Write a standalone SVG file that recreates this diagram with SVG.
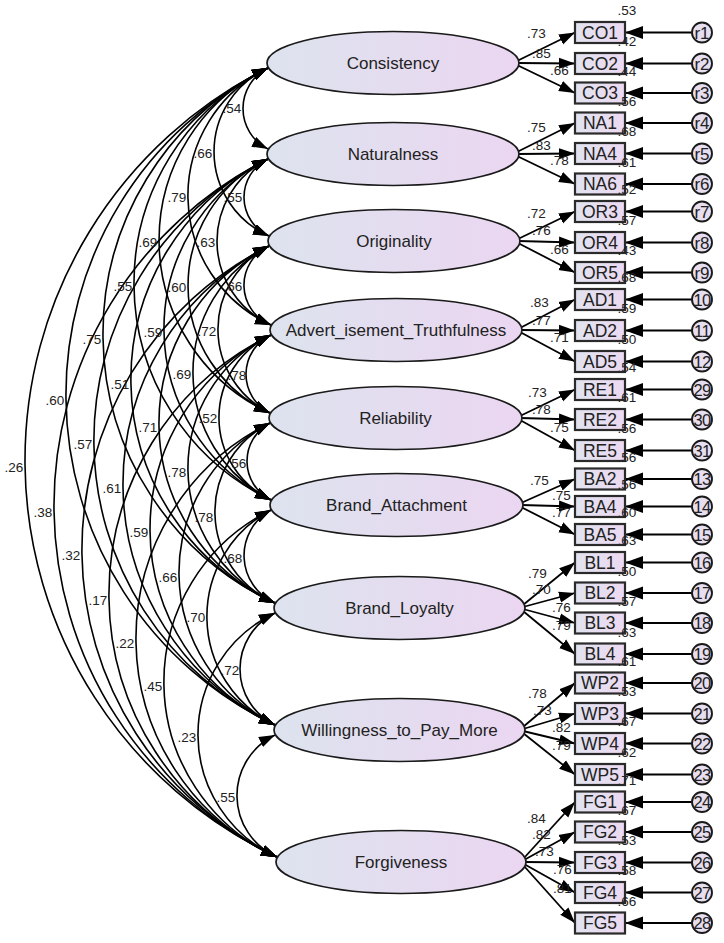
<svg xmlns="http://www.w3.org/2000/svg" width="724" height="943" viewBox="0 0 724 943">
<style>
text{font-family:"Liberation Sans",Arial,sans-serif;fill:#222}
.lat{fill:url(#gE);stroke:#1a1a1a;stroke-width:1.7}
.obs{fill:url(#gB);stroke:#2a2a2a;stroke-width:2.2}
.err{fill:#e7def0;stroke:#1a1a1a;stroke-width:1.9}
.lt{font-size:17px;text-anchor:middle}
.bt{font-size:17.5px;text-anchor:middle}
.ct{font-size:17px;text-anchor:middle}
.ct2{font-size:16.5px;text-anchor:middle;letter-spacing:-0.6px}
.num{font-size:13.5px}
.nm{font-size:13.5px;text-anchor:middle}
.cov{fill:none;stroke:#000;stroke-width:1.6;marker-start:url(#ah);marker-end:url(#ah)}
.ld{fill:none;stroke:#000;stroke-width:1.8;marker-end:url(#ah)}
.el{fill:none;stroke:#000;stroke-width:1.8;marker-end:url(#ahb)}
</style>
<defs>
<linearGradient id="gE" x1="0" y1="0" x2="1" y2="0">
<stop offset="0" stop-color="#dde3ee"/>
<stop offset="1" stop-color="#ebd6f1"/>
</linearGradient>
<linearGradient id="gB" x1="0" y1="0" x2="1" y2="0">
<stop offset="0" stop-color="#e1e3ef"/>
<stop offset="1" stop-color="#ecd9f1"/>
</linearGradient>
<marker id="ah" markerUnits="userSpaceOnUse" markerWidth="17" markerHeight="12" refX="16" refY="6" orient="auto-start-reverse">
<path d="M0,0.5 L16,6 L0,11.5 z" fill="#000"/>
</marker>
<marker id="ahb" markerUnits="userSpaceOnUse" markerWidth="19" markerHeight="14" refX="18" refY="7" orient="auto">
<path d="M0,0.5 L18,7 L0,13.5 z" fill="#000"/>
</marker>
</defs>
<rect width="724" height="943" fill="#fff"/>
<g id="connectors">
<g id="covariances">
<path class="cov" d="M268,68 A45.3,45.3 0 0 0 268,149"/>
<path class="cov" d="M268,159 A42.5,42.5 0 0 0 269,236"/>
<path class="cov" d="M269,246 A43,43 0 0 0 271,325"/>
<path class="cov" d="M271,335 A43.3,43.3 0 0 0 270,413"/>
<path class="cov" d="M270,423 A43.3,43.3 0 0 0 271,500"/>
<path class="cov" d="M271,510 A51.9,51.9 0 0 0 275,603"/>
<path class="cov" d="M275,613 A62.3,62.3 0 0 0 275,725"/>
<path class="cov" d="M275,735 A67.2,67.2 0 0 0 277,857"/>
<path class="cov" d="M268,68 A92,92 0 0 0 269,236"/>
<path class="cov" d="M268,159 A91.9,91.9 0 0 0 271,325"/>
<path class="cov" d="M269,246 A93.4,93.4 0 0 0 270,413"/>
<path class="cov" d="M271,335 A91.4,91.4 0 0 0 271,500"/>
<path class="cov" d="M270,423 A99.2,99.2 0 0 0 275,603"/>
<path class="cov" d="M271,510 A120.5,120.5 0 0 0 275,725"/>
<path class="cov" d="M275,613 A134.4,134.4 0 0 0 277,857"/>
<path class="cov" d="M268,68 A142,142 0 0 0 271,325"/>
<path class="cov" d="M268,159 A140.1,140.1 0 0 0 270,413"/>
<path class="cov" d="M269,246 A143.2,143.2 0 0 0 271,500"/>
<path class="cov" d="M271,335 A148.1,148.1 0 0 0 275,603"/>
<path class="cov" d="M270,423 A168.7,168.7 0 0 0 275,725"/>
<path class="cov" d="M271,510 A191.8,191.8 0 0 0 277,857"/>
<path class="cov" d="M268,68 A190.3,190.3 0 0 0 270,413"/>
<path class="cov" d="M268,159 A190.5,190.5 0 0 0 271,500"/>
<path class="cov" d="M269,246 A197.5,197.5 0 0 0 275,603"/>
<path class="cov" d="M271,335 A216.1,216.1 0 0 0 275,725"/>
<path class="cov" d="M270,423 A240,240 0 0 0 277,857"/>
<path class="cov" d="M268,68 A239.9,239.9 0 0 0 271,500"/>
<path class="cov" d="M268,159 A245.6,245.6 0 0 0 275,603"/>
<path class="cov" d="M269,246 A267,267 0 0 0 275,725"/>
<path class="cov" d="M271,335 A288.9,288.9 0 0 0 277,857"/>
<path class="cov" d="M268,68 A296.6,296.6 0 0 0 275,603"/>
<path class="cov" d="M268,159 A314.3,314.3 0 0 0 275,725"/>
<path class="cov" d="M269,246 A339.8,339.8 0 0 0 277,857"/>
<path class="cov" d="M268,68 A365.3,365.3 0 0 0 275,725"/>
<path class="cov" d="M268,159 A388,388 0 0 0 277,857"/>
<path class="cov" d="M268,68 A438.2,438.2 0 0 0 277,857"/>
</g>
<g id="loadings">
<path class="ld" d="M517,61 L575,32.5"/>
<path class="ld" d="M517,63 L575,63.5"/>
<path class="ld" d="M517,65 L575,93"/>
<path class="ld" d="M517,152 L575,123"/>
<path class="ld" d="M517,154 L575,153.5"/>
<path class="ld" d="M517,156 L575,184"/>
<path class="ld" d="M518,239 L575,211.5"/>
<path class="ld" d="M518,241 L575,242.5"/>
<path class="ld" d="M518,243 L575,272.5"/>
<path class="ld" d="M520,328 L575,299.5"/>
<path class="ld" d="M520,330 L575,330.5"/>
<path class="ld" d="M520,332 L575,361.5"/>
<path class="ld" d="M520,416 L575,389.5"/>
<path class="ld" d="M520,418 L575,419.5"/>
<path class="ld" d="M520,420 L575,450.5"/>
<path class="ld" d="M521,503 L575,479"/>
<path class="ld" d="M521,505 L575,506.5"/>
<path class="ld" d="M521,507 L575,534.5"/>
<path class="ld" d="M523,605 L575,562.5"/>
<path class="ld" d="M523,607 L575,593"/>
<path class="ld" d="M523,609 L575,623"/>
<path class="ld" d="M523,611 L575,654"/>
<path class="ld" d="M523,727 L575,683"/>
<path class="ld" d="M523,729 L575,713.5"/>
<path class="ld" d="M523,731 L575,743.5"/>
<path class="ld" d="M523,733 L575,774.5"/>
<path class="ld" d="M524,858 L575,802"/>
<path class="ld" d="M524,860 L575,832"/>
<path class="ld" d="M524,862 L575,862.5"/>
<path class="ld" d="M524,864 L575,892.5"/>
<path class="ld" d="M524,866 L575,923"/>
</g>
<g id="errors">
<path class="el" d="M692,32.5 L625,32.5"/>
<path class="el" d="M692,63.5 L625,63.5"/>
<path class="el" d="M692,93 L625,93"/>
<path class="el" d="M692,123 L625,123"/>
<path class="el" d="M692,153.5 L625,153.5"/>
<path class="el" d="M692,184 L625,184"/>
<path class="el" d="M692,211.5 L625,211.5"/>
<path class="el" d="M692,242.5 L625,242.5"/>
<path class="el" d="M692,272.5 L625,272.5"/>
<path class="el" d="M692,299.5 L625,299.5"/>
<path class="el" d="M692,330.5 L625,330.5"/>
<path class="el" d="M692,361.5 L625,361.5"/>
<path class="el" d="M692,389.5 L625,389.5"/>
<path class="el" d="M692,419.5 L625,419.5"/>
<path class="el" d="M692,450.5 L625,450.5"/>
<path class="el" d="M692,479 L625,479"/>
<path class="el" d="M692,506.5 L625,506.5"/>
<path class="el" d="M692,534.5 L625,534.5"/>
<path class="el" d="M692,562.5 L625,562.5"/>
<path class="el" d="M692,593 L625,593"/>
<path class="el" d="M692,623 L625,623"/>
<path class="el" d="M692,654 L625,654"/>
<path class="el" d="M692,683 L625,683"/>
<path class="el" d="M692,713.5 L625,713.5"/>
<path class="el" d="M692,743.5 L625,743.5"/>
<path class="el" d="M692,774.5 L625,774.5"/>
<path class="el" d="M692,802 L625,802"/>
<path class="el" d="M692,832 L625,832"/>
<path class="el" d="M692,862.5 L625,862.5"/>
<path class="el" d="M692,892.5 L625,892.5"/>
<path class="el" d="M692,923 L625,923"/>
</g>
</g>
<g id="Consistency"><ellipse class="lat" cx="393" cy="63" rx="126" ry="31.5"/><text class="lt" x="393" y="69">Consistency</text></g>
<g id="Naturalness"><ellipse class="lat" cx="393" cy="154" rx="126" ry="31.5"/><text class="lt" x="393" y="160">Naturalness</text></g>
<g id="Originality"><ellipse class="lat" cx="394" cy="241" rx="126" ry="31.5"/><text class="lt" x="394" y="247">Originality</text></g>
<g id="Advertisement_Truthfulness"><ellipse class="lat" cx="396" cy="330" rx="126" ry="31.5"/><text class="lt" x="396" y="336">Advert_isement_Truthfulness</text></g>
<g id="Reliability"><ellipse class="lat" cx="395.5" cy="418" rx="126.5" ry="31.5"/><text class="lt" x="395.5" y="424">Reliability</text></g>
<g id="Brand_Attachment"><ellipse class="lat" cx="396.5" cy="505" rx="126.5" ry="31.5"/><text class="lt" x="396.5" y="511">Brand_Attachment</text></g>
<g id="Brand_Loyalty"><ellipse class="lat" cx="399.5" cy="608" rx="125.5" ry="31.5"/><text class="lt" x="399.5" y="614">Brand_Loyalty</text></g>
<g id="Willingness_to_Pay_More"><ellipse class="lat" cx="399.5" cy="730" rx="125.5" ry="31.5"/><text class="lt" x="399.5" y="736">Willingness_to_Pay_More</text></g>
<g id="Forgiveness"><ellipse class="lat" cx="401" cy="862" rx="125" ry="31.5"/><text class="lt" x="401" y="868">Forgiveness</text></g>
<g id="CO1"><rect class="obs" x="575" y="22" width="50" height="21"/><text class="bt" x="600" y="38.5">CO1</text></g>
<g id="CO2"><rect class="obs" x="575" y="53" width="50" height="21"/><text class="bt" x="600" y="69.5">CO2</text></g>
<g id="CO3"><rect class="obs" x="575" y="82.5" width="50" height="21"/><text class="bt" x="600" y="99">CO3</text></g>
<g id="NA1"><rect class="obs" x="575" y="112.5" width="50" height="21"/><text class="bt" x="600" y="129">NA1</text></g>
<g id="NA4"><rect class="obs" x="575" y="143" width="50" height="21"/><text class="bt" x="600" y="159.5">NA4</text></g>
<g id="NA6"><rect class="obs" x="575" y="173.5" width="50" height="21"/><text class="bt" x="600" y="190">NA6</text></g>
<g id="OR3"><rect class="obs" x="575" y="201" width="50" height="21"/><text class="bt" x="600" y="217.5">OR3</text></g>
<g id="OR4"><rect class="obs" x="575" y="232" width="50" height="21"/><text class="bt" x="600" y="248.5">OR4</text></g>
<g id="OR5"><rect class="obs" x="575" y="262" width="50" height="21"/><text class="bt" x="600" y="278.5">OR5</text></g>
<g id="AD1"><rect class="obs" x="575" y="289" width="50" height="21"/><text class="bt" x="600" y="305.5">AD1</text></g>
<g id="AD2"><rect class="obs" x="575" y="320" width="50" height="21"/><text class="bt" x="600" y="336.5">AD2</text></g>
<g id="AD5"><rect class="obs" x="575" y="351" width="50" height="21"/><text class="bt" x="600" y="367.5">AD5</text></g>
<g id="RE1"><rect class="obs" x="575" y="379" width="50" height="21"/><text class="bt" x="600" y="395.5">RE1</text></g>
<g id="RE2"><rect class="obs" x="575" y="409" width="50" height="21"/><text class="bt" x="600" y="425.5">RE2</text></g>
<g id="RE5"><rect class="obs" x="575" y="440" width="50" height="21"/><text class="bt" x="600" y="456.5">RE5</text></g>
<g id="BA2"><rect class="obs" x="575" y="468.5" width="50" height="21"/><text class="bt" x="600" y="485">BA2</text></g>
<g id="BA4"><rect class="obs" x="575" y="496" width="50" height="21"/><text class="bt" x="600" y="512.5">BA4</text></g>
<g id="BA5"><rect class="obs" x="575" y="524" width="50" height="21"/><text class="bt" x="600" y="540.5">BA5</text></g>
<g id="BL1"><rect class="obs" x="575" y="552" width="50" height="21"/><text class="bt" x="600" y="568.5">BL1</text></g>
<g id="BL2"><rect class="obs" x="575" y="582.5" width="50" height="21"/><text class="bt" x="600" y="599">BL2</text></g>
<g id="BL3"><rect class="obs" x="575" y="612.5" width="50" height="21"/><text class="bt" x="600" y="629">BL3</text></g>
<g id="BL4"><rect class="obs" x="575" y="643.5" width="50" height="21"/><text class="bt" x="600" y="660">BL4</text></g>
<g id="WP2"><rect class="obs" x="575" y="672.5" width="50" height="21"/><text class="bt" x="600" y="689">WP2</text></g>
<g id="WP3"><rect class="obs" x="575" y="703" width="50" height="21"/><text class="bt" x="600" y="719.5">WP3</text></g>
<g id="WP4"><rect class="obs" x="575" y="733" width="50" height="21"/><text class="bt" x="600" y="749.5">WP4</text></g>
<g id="WP5"><rect class="obs" x="575" y="764" width="50" height="21"/><text class="bt" x="600" y="780.5">WP5</text></g>
<g id="FG1"><rect class="obs" x="575" y="791.5" width="50" height="21"/><text class="bt" x="600" y="808">FG1</text></g>
<g id="FG2"><rect class="obs" x="575" y="821.5" width="50" height="21"/><text class="bt" x="600" y="838">FG2</text></g>
<g id="FG3"><rect class="obs" x="575" y="852" width="50" height="21"/><text class="bt" x="600" y="868.5">FG3</text></g>
<g id="FG4"><rect class="obs" x="575" y="882" width="50" height="21"/><text class="bt" x="600" y="898.5">FG4</text></g>
<g id="FG5"><rect class="obs" x="575" y="912.5" width="50" height="21"/><text class="bt" x="600" y="929">FG5</text></g>
<g id="r1"><circle class="err" cx="702" cy="32.5" r="10"/><text class="ct" x="702" y="38.5">r1</text></g>
<g id="r2"><circle class="err" cx="702" cy="63.5" r="10"/><text class="ct" x="702" y="69.5">r2</text></g>
<g id="r3"><circle class="err" cx="702" cy="93" r="10"/><text class="ct" x="702" y="99">r3</text></g>
<g id="r4"><circle class="err" cx="702" cy="123" r="10"/><text class="ct" x="702" y="129">r4</text></g>
<g id="r5"><circle class="err" cx="702" cy="153.5" r="10"/><text class="ct" x="702" y="159.5">r5</text></g>
<g id="r6"><circle class="err" cx="702" cy="184" r="10"/><text class="ct" x="702" y="190">r6</text></g>
<g id="r7"><circle class="err" cx="702" cy="211.5" r="10"/><text class="ct" x="702" y="217.5">r7</text></g>
<g id="r8"><circle class="err" cx="702" cy="242.5" r="10"/><text class="ct" x="702" y="248.5">r8</text></g>
<g id="r9"><circle class="err" cx="702" cy="272.5" r="10"/><text class="ct" x="702" y="278.5">r9</text></g>
<g id="e10"><circle class="err" cx="702" cy="299.5" r="10"/><text class="ct2" x="702" y="305.5">10</text></g>
<g id="e11"><circle class="err" cx="702" cy="330.5" r="10"/><text class="ct2" x="702" y="336.5">11</text></g>
<g id="e12"><circle class="err" cx="702" cy="361.5" r="10"/><text class="ct2" x="702" y="367.5">12</text></g>
<g id="e29"><circle class="err" cx="702" cy="389.5" r="10"/><text class="ct2" x="702" y="395.5">29</text></g>
<g id="e30"><circle class="err" cx="702" cy="419.5" r="10"/><text class="ct2" x="702" y="425.5">30</text></g>
<g id="e31"><circle class="err" cx="702" cy="450.5" r="10"/><text class="ct2" x="702" y="456.5">31</text></g>
<g id="e13"><circle class="err" cx="702" cy="479" r="10"/><text class="ct2" x="702" y="485">13</text></g>
<g id="e14"><circle class="err" cx="702" cy="506.5" r="10"/><text class="ct2" x="702" y="512.5">14</text></g>
<g id="e15"><circle class="err" cx="702" cy="534.5" r="10"/><text class="ct2" x="702" y="540.5">15</text></g>
<g id="e16"><circle class="err" cx="702" cy="562.5" r="10"/><text class="ct2" x="702" y="568.5">16</text></g>
<g id="e17"><circle class="err" cx="702" cy="593" r="10"/><text class="ct2" x="702" y="599">17</text></g>
<g id="e18"><circle class="err" cx="702" cy="623" r="10"/><text class="ct2" x="702" y="629">18</text></g>
<g id="e19"><circle class="err" cx="702" cy="654" r="10"/><text class="ct2" x="702" y="660">19</text></g>
<g id="e20"><circle class="err" cx="702" cy="683" r="10"/><text class="ct2" x="702" y="689">20</text></g>
<g id="e21"><circle class="err" cx="702" cy="713.5" r="10"/><text class="ct2" x="702" y="719.5">21</text></g>
<g id="e22"><circle class="err" cx="702" cy="743.5" r="10"/><text class="ct2" x="702" y="749.5">22</text></g>
<g id="e23"><circle class="err" cx="702" cy="774.5" r="10"/><text class="ct2" x="702" y="780.5">23</text></g>
<g id="e24"><circle class="err" cx="702" cy="802" r="10"/><text class="ct2" x="702" y="808">24</text></g>
<g id="e25"><circle class="err" cx="702" cy="832" r="10"/><text class="ct2" x="702" y="838">25</text></g>
<g id="e26"><circle class="err" cx="702" cy="862.5" r="10"/><text class="ct2" x="702" y="868.5">26</text></g>
<g id="e27"><circle class="err" cx="702" cy="892.5" r="10"/><text class="ct2" x="702" y="898.5">27</text></g>
<g id="e28"><circle class="err" cx="702" cy="923" r="10"/><text class="ct2" x="702" y="929">28</text></g>
<g id="correlation-labels" class="nm">
<text x="232" y="112.5">.54</text>
<text x="233" y="201.5">.55</text>
<text x="233" y="290.5">.66</text>
<text x="237" y="379.5">.78</text>
<text x="237" y="467.5">.56</text>
<text x="233" y="562.5">.68</text>
<text x="230" y="674.5">.72</text>
<text x="226" y="801.5">.55</text>
<text x="203" y="157.5">.66</text>
<text x="206" y="246.5">.63</text>
<text x="207" y="335.5">.72</text>
<text x="208" y="422.5">.52</text>
<text x="204" y="521.5">.78</text>
<text x="196" y="621.5">.70</text>
<text x="187" y="741.5">.23</text>
<text x="177" y="201.5">.79</text>
<text x="177" y="291.5">.60</text>
<text x="182" y="378.5">.69</text>
<text x="177" y="476.5">.78</text>
<text x="168" y="581.5">.66</text>
<text x="153" y="690.5">.45</text>
<text x="148" y="246.5">.69</text>
<text x="153" y="336.5">.59</text>
<text x="148" y="431.5">.71</text>
<text x="139" y="536.5">.59</text>
<text x="125" y="647.5">.22</text>
<text x="123" y="290.5">.55</text>
<text x="120" y="388.5">.51</text>
<text x="112" y="492.5">.61</text>
<text x="98" y="604.5">.17</text>
<text x="92" y="343.5">.75</text>
<text x="83" y="448.5">.57</text>
<text x="71" y="559.5">.32</text>
<text x="55" y="404.5">.60</text>
<text x="43" y="516.5">.38</text>
<text x="14" y="471.5">.26</text>
</g>
<g id="loading-labels" class="num">
<text x="527" y="37.5">.73</text>
<text x="532" y="57.5">.85</text>
<text x="550" y="74.5">.66</text>
<text x="527" y="131.5">.75</text>
<text x="532" y="149.5">.83</text>
<text x="550" y="164.5">.78</text>
<text x="527" y="217.5">.72</text>
<text x="532" y="234.5">.76</text>
<text x="550" y="253.5">.66</text>
<text x="530" y="306.5">.83</text>
<text x="532" y="324.5">.77</text>
<text x="550" y="341.5">.71</text>
<text x="528" y="396.5">.73</text>
<text x="532" y="413.5">.78</text>
<text x="550" y="431.5">.75</text>
<text x="530" y="484.5">.75</text>
<text x="552" y="499.5">.75</text>
<text x="552" y="516.5">.77</text>
<text x="528" y="577.5">.79</text>
<text x="532" y="593.5">.70</text>
<text x="552" y="611.5">.76</text>
<text x="552" y="629.5">.79</text>
<text x="528" y="697.5">.78</text>
<text x="533" y="714.5">.73</text>
<text x="552" y="731.5">.82</text>
<text x="552" y="749.5">.79</text>
<text x="527" y="822.5">.84</text>
<text x="532" y="838.5">.82</text>
<text x="535" y="855.5">.73</text>
<text x="553" y="873.5">.76</text>
<text x="553" y="892.5">.81</text>
</g>
<g id="r2-labels" class="nm">
<text x="627" y="15">.53</text>
<text x="627" y="46">.42</text>
<text x="627" y="75.5">.44</text>
<text x="627" y="105.5">.56</text>
<text x="627" y="136">.68</text>
<text x="627" y="166.5">.61</text>
<text x="627" y="194">.52</text>
<text x="627" y="225">.57</text>
<text x="627" y="255">.43</text>
<text x="627" y="282">.68</text>
<text x="627" y="313">.59</text>
<text x="627" y="344">.50</text>
<text x="627" y="372">.54</text>
<text x="627" y="402">.61</text>
<text x="627" y="433">.56</text>
<text x="627" y="461.5">.56</text>
<text x="627" y="489">.56</text>
<text x="627" y="517">.60</text>
<text x="627" y="545">.63</text>
<text x="627" y="575.5">.50</text>
<text x="627" y="605.5">.57</text>
<text x="627" y="636.5">.63</text>
<text x="627" y="665.5">.61</text>
<text x="627" y="696">.53</text>
<text x="627" y="726">.67</text>
<text x="627" y="757">.62</text>
<text x="627" y="784.5">.71</text>
<text x="627" y="814.5">.67</text>
<text x="627" y="845">.53</text>
<text x="627" y="875">.58</text>
<text x="627" y="905.5">.66</text>
</g>
</svg>
